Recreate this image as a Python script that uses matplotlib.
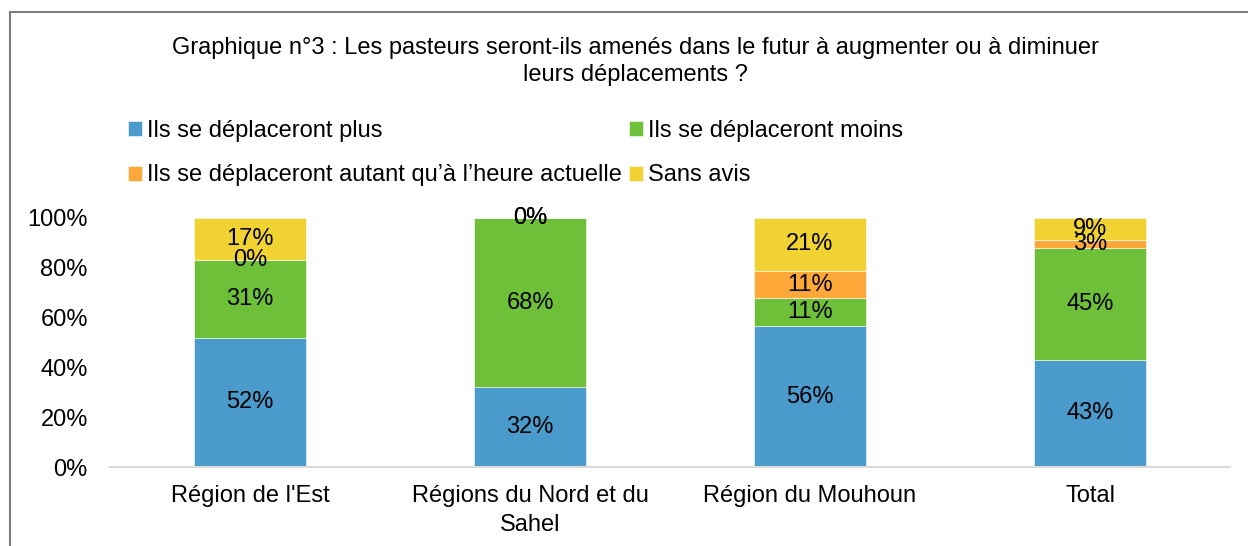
import matplotlib.pyplot as plt
import numpy as np
from matplotlib.lines import Line2D

plt.rcParams['font.family'] = ['Liberation Sans', 'DejaVu Sans']

categories = ["Région de l'Est", "Régions du Nord et du\nSahel", "Région du Mouhoun", "Total"]
plus = [52, 32, 56, 43]
moins = [31, 68, 11, 45]
autant = [0, 0, 11, 3]
sans_avis = [17, 0, 21, 9]

series_names = ["Ils se déplaceront plus", "Ils se déplaceront moins",
                "Ils se déplaceront autant qu’à l’heure actuelle", "Sans avis"]
colors = ["#4A9ACB", "#6EC039", "#FFA83A", "#F0D232"]

title = "Graphique n°3 : Les pasteurs seront-ils amenés dans le futur à augmenter ou à diminuer\nleurs déplacements ?"

fig = plt.figure(figsize=(12.48, 5.46), dpi=100)
ax = fig.add_axes([110/1248, 79/546, 1120/1248, 249/546])

data = np.array([plus, moins, autant, sans_avis], dtype=float)
totals = data.sum(axis=0)
frac = data / totals
x = np.arange(len(categories))
bottom = np.zeros(len(categories))
handles = []
for i in range(4):
    b = ax.bar(x, frac[i], 0.4, bottom=bottom, color=colors[i], label=series_names[i],
               edgecolor='white', linewidth=0.4)
    handles.append(b)
    for j in range(len(categories)):
        ax.text(x[j], bottom[j] + frac[i][j] / 2, f"{int(data[i][j])}%",
                ha='center', va='center', fontsize=17, color='black')
    bottom += frac[i]

ax.set_xlim(-0.5, 3.5)
ax.set_ylim(0, 1)
ax.set_yticks(np.arange(0, 1.01, 0.2))
ax.set_yticklabels([f"{int(v)}%" for v in np.arange(0, 101, 20)], fontsize=17)
ax.set_xticks(x)
ax.set_xticklabels(categories, fontsize=17, linespacing=1.4)
ax.tick_params(axis='both', length=0)
ax.tick_params(axis='y', pad=16)
ax.tick_params(axis='x', pad=13)
for s in ['top', 'right', 'left']:
    ax.spines[s].set_visible(False)
ax.spines['bottom'].set_color('#D9D9D9')
ax.spines['bottom'].set_linewidth(1.5)

fig.text(635/1248, 1 - 37/546, title, ha='center', va='top', fontsize=17, linespacing=1.3)

order = [0, 2, 1, 3]
fig.legend([handles[k] for k in order], [series_names[k] for k in order],
           loc='upper left', bbox_to_anchor=(128/1248, 1 - 120/546), ncol=2,
           frameon=False, fontsize=17, handlelength=0.6, handleheight=0.6,
           handletextpad=0.2, columnspacing=0.3, labelspacing=0.95,
           borderpad=0, borderaxespad=0)

# chart border (partially cropped in the original)
fig.add_artist(Line2D([10/1248, 1], [1 - 12/546, 1 - 12/546], transform=fig.transFigure,
                      color='#7F7F7F', linewidth=1.5))
fig.add_artist(Line2D([10/1248, 10/1248], [0, 1 - 12/546], transform=fig.transFigure,
                      color='#7F7F7F', linewidth=1.5))

fig.savefig("out.png", dpi=100)
